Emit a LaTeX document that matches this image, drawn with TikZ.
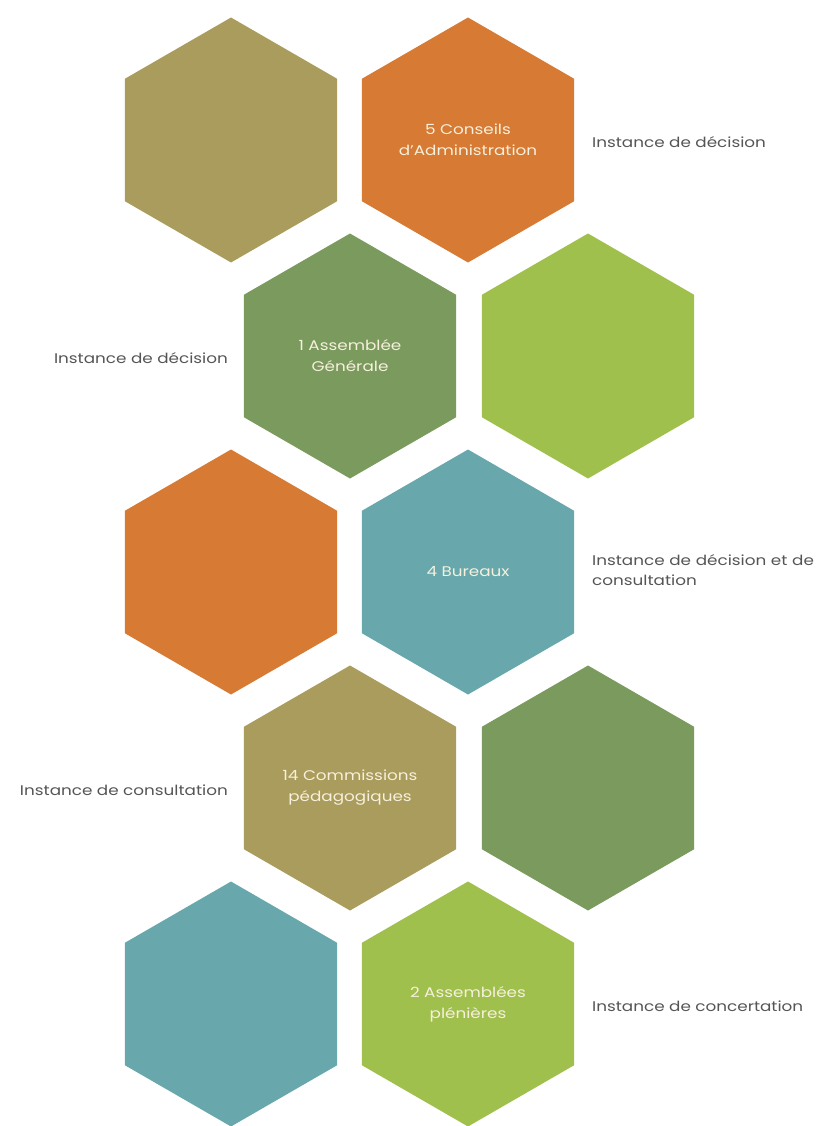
\documentclass[tikz,border=0pt]{standalone}
\usepackage{fontspec}
\setmainfont{Poppins}[FakeStretch=1.2]
\usetikzlibrary{shapes.geometric}
\definecolor{hxtan}{RGB}{170,156,92}
\definecolor{hxorange}{RGB}{214,122,52}
\definecolor{hxgreen}{RGB}{122,154,94}
\definecolor{hxlime}{RGB}{160,192,78}
\definecolor{hxteal}{RGB}{104,168,172}
\definecolor{lbl}{RGB}{85,85,85}
\definecolor{intext}{RGB}{246,240,220}
\begin{document}
\begin{tikzpicture}[x=1pt,y=-1pt,
  hexa/.style={regular polygon, regular polygon sides=6, shape border rotate=30,
    minimum size=245pt, inner sep=0pt, draw=none, fill=#1,
    text=intext, font=\fontsize{14}{21}\selectfont, align=center},
  side/.style={text=lbl, font=\fontsize{14}{20}\selectfont, align=left, inner sep=0pt}]
\useasboundingbox (0,0) rectangle (823,1126);
% row 1
\node[hexa=hxtan] (h1a) at (231,140) {};
\node[hexa=hxorange] (h1b) at (468,140) {5 Conseils\\d'Administration};
% row 2
\node[hexa=hxgreen] (h2a) at (350,356) {1 Assemblée\\Générale};
\node[hexa=hxlime] (h2b) at (588,356) {};
% row 3
\node[hexa=hxorange] (h3a) at (231,572) {};
\node[hexa=hxteal] (h3b) at (468,572) {4 Bureaux};
% row 4
\node[hexa=hxtan] (h4a) at (350,788) {14 Commissions\\pédagogiques};
\node[hexa=hxgreen] (h4b) at (588,788) {};
% row 5
\node[hexa=hxteal] (h5a) at (231,1004) {};
\node[hexa=hxlime] (h5b) at (468,1004) {2 Assemblées\\plénières};
% labels
\node[side, anchor=west] (l1) at (592,142) {Instance de décision};
\node[side, anchor=east] (l2) at (228,358) {Instance de décision};
\node[side, anchor=west, text width=235pt] (l3) at (592,570) {Instance de décision et de\\consultation};
\node[side, anchor=east] (l4) at (228,790) {Instance de consultation};
\node[side, anchor=west] (l5) at (592,1006) {Instance de concertation};
\end{tikzpicture}
\end{document}
